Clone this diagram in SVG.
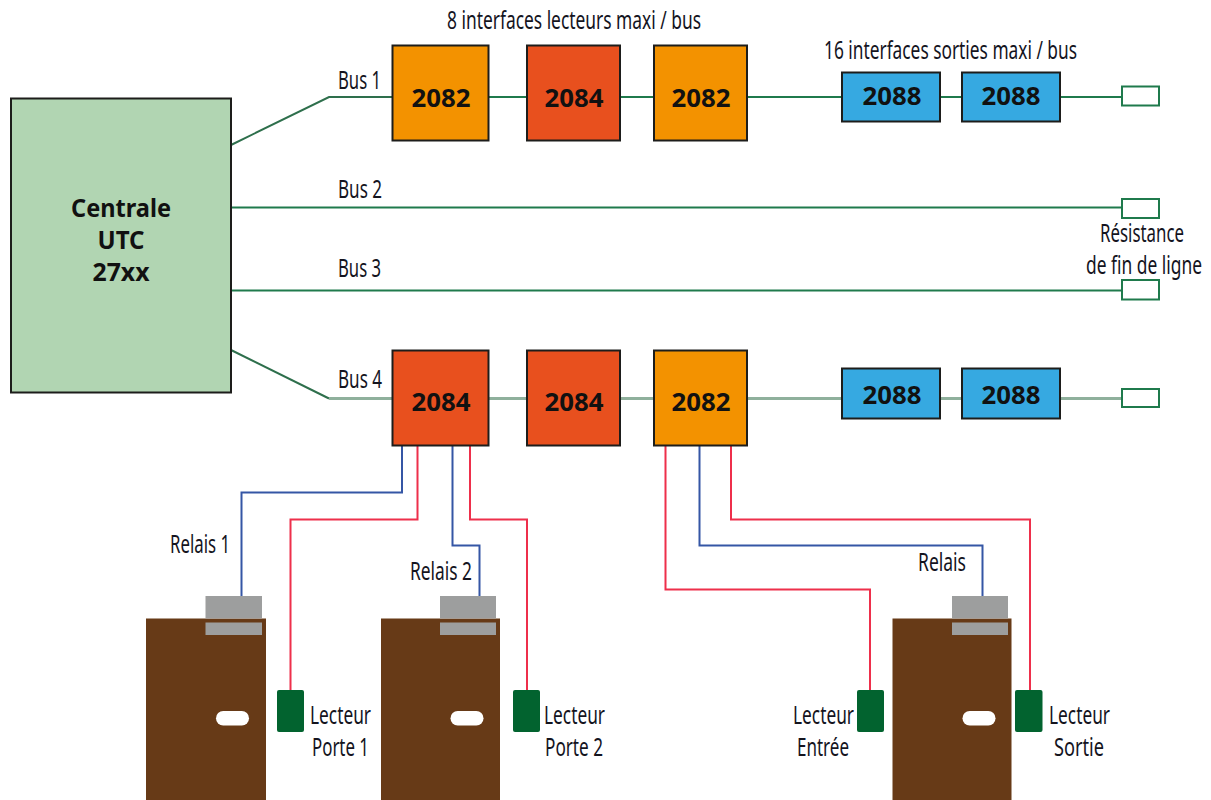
<svg xmlns="http://www.w3.org/2000/svg" width="1211" height="800" viewBox="0 0 1211 800">
<style>
text{font-family:"Noto Sans","Liberation Sans",sans-serif;fill:#14141e}
.l{font-size:25px}
.b{font-size:25px;font-weight:700;text-anchor:middle;fill:#111}
.box{stroke:#1d1d1b;stroke-width:2}
.or{fill:#f39200}.re{fill:#e8501e}.bl{fill:#36a9e1}
.w{fill:none;stroke-width:2}
.g{stroke:#1f7a4c}.g4{stroke:#8fb09c;stroke-width:3}.gd{stroke:#2e6f4c}
.bw{stroke:#3556a5}.rw{stroke:#ee2f4b}
.res{fill:#fff;stroke:#1f7a4c;stroke-width:2}
.door{fill:#673a17}.gy{fill:#9d9e9e}.rd{fill:#02632f}.sl{fill:#fff}
</style>
<g id="connectors">
<path class="w gd" d="M231 145L329 97H392"/>
<path class="w g" d="M488 97H527M620 97H654M747 97H842M940 97H962M1060 97H1122"/>
<path class="w g" d="M231 207.500H1122"/>
<path class="w g" d="M231 290.500H1122"/>
<path class="w gd" d="M231 350L329 398.500"/>
<path class="w g4" d="M329 398.500H392M488 398.500H527M620 398.500H654M747 398.500H842M940 398.500H962M1060 398.500H1122"/>
<path class="w bw" d="M402 445V492.500H241.500V596"/>
<path class="w rw" d="M417.500 445V519.500H290.500V690"/>
<path class="w bw" d="M452.500 445V545.500H479.500V596"/>
<path class="w rw" d="M470 445V519.500H527V690"/>
<path class="w rw" d="M665.500 445V589.500H870V690"/>
<path class="w bw" d="M699.500 445V545.500H982.500V596"/>
<path class="w rw" d="M731 445V519.500H1030V690"/>
</g>
<g id="centrale"><rect x="11" y="98.500" width="220" height="294" fill="#b1d5b2" class="box"/>
<text class="b" x="121" y="217" textLength="100" lengthAdjust="spacingAndGlyphs">Centrale</text><text class="b" x="121" y="249" textLength="47" lengthAdjust="spacingAndGlyphs">UTC</text><text class="b" x="121" y="281" textLength="57" lengthAdjust="spacingAndGlyphs">27xx</text></g>
<g id="b1-2082a"><rect class="box or" x="392.500" y="45.500" width="96" height="95"/><text class="b" x="441" y="107" textLength="59" lengthAdjust="spacingAndGlyphs">2082</text></g>
<g id="b1-2084"><rect class="box re" x="527" y="45.500" width="93" height="95"/><text class="b" x="574" y="107" textLength="59" lengthAdjust="spacingAndGlyphs">2084</text></g>
<g id="b1-2082b"><rect class="box or" x="654" y="45.500" width="93" height="95"/><text class="b" x="701" y="107" textLength="59" lengthAdjust="spacingAndGlyphs">2082</text></g>
<g id="b1-2088a"><rect class="box bl" x="842" y="72.500" width="98" height="49"/><text class="b" x="892" y="105" textLength="59" lengthAdjust="spacingAndGlyphs">2088</text></g>
<g id="b1-2088b"><rect class="box bl" x="962" y="72.500" width="98" height="49"/><text class="b" x="1011" y="105" textLength="59" lengthAdjust="spacingAndGlyphs">2088</text></g>
<g id="b4-2084a"><rect class="box re" x="392.500" y="350.500" width="96" height="95"/><text class="b" x="441" y="411" textLength="59" lengthAdjust="spacingAndGlyphs">2084</text></g>
<g id="b4-2084b"><rect class="box re" x="527" y="350.500" width="93" height="95"/><text class="b" x="574" y="411" textLength="59" lengthAdjust="spacingAndGlyphs">2084</text></g>
<g id="b4-2082"><rect class="box or" x="654" y="350.500" width="93" height="95"/><text class="b" x="701" y="411" textLength="59" lengthAdjust="spacingAndGlyphs">2082</text></g>
<g id="b4-2088a"><rect class="box bl" x="842" y="368.500" width="98" height="50"/><text class="b" x="892" y="404" textLength="59" lengthAdjust="spacingAndGlyphs">2088</text></g>
<g id="b4-2088b"><rect class="box bl" x="962" y="368.500" width="98" height="50"/><text class="b" x="1011" y="404" textLength="59" lengthAdjust="spacingAndGlyphs">2088</text></g>
<g id="resistances">
<rect class="res" x="1122" y="86.500" width="37" height="19"/>
<rect class="res" x="1122" y="199" width="37" height="19"/>
<rect class="res" x="1122" y="280" width="37" height="19.500"/>
<rect class="res" x="1122" y="389" width="37" height="18"/>
</g>
<g id="porte1"><rect class="door" x="146" y="618.500" width="120" height="182"/><rect class="gy" x="205.500" y="596" width="56.500" height="22.500"/><rect class="gy" x="205.500" y="622.500" width="56.500" height="12.500"/><rect class="sl" x="216" y="711" width="33" height="14.500" rx="7.200"/></g>
<g id="porte2"><rect class="door" x="381" y="618.500" width="119" height="182"/><rect class="gy" x="440" y="596" width="56" height="22.500"/><rect class="gy" x="440" y="622.500" width="56" height="12.500"/><rect class="sl" x="450.500" y="711" width="33" height="14.500" rx="7.200"/></g>
<g id="porte3"><rect class="door" x="892.500" y="618.500" width="119" height="182"/><rect class="gy" x="952" y="596" width="56" height="22.500"/><rect class="gy" x="952" y="622.500" width="56" height="12.500"/><rect class="sl" x="962.500" y="711" width="33" height="14.500" rx="7.200"/></g>
<g id="lecteurs">
<rect class="rd" x="277" y="690" width="27" height="42" rx="2"/>
<rect class="rd" x="513" y="690" width="27" height="42" rx="2"/>
<rect class="rd" x="857" y="690" width="27" height="42" rx="2"/>
<rect class="rd" x="1015" y="690" width="27.500" height="42" rx="2"/>
</g>
<g id="labels">
<text class="l" x="447" y="29" textLength="254" lengthAdjust="spacingAndGlyphs">8 interfaces lecteurs maxi / bus</text>
<text class="l" x="824" y="59" textLength="253" lengthAdjust="spacingAndGlyphs">16 interfaces sorties maxi / bus</text>
<text class="l" x="338" y="89" textLength="43" lengthAdjust="spacingAndGlyphs">Bus 1</text>
<text class="l" x="338" y="198" textLength="44" lengthAdjust="spacingAndGlyphs">Bus 2</text>
<text class="l" x="338" y="277" textLength="43" lengthAdjust="spacingAndGlyphs">Bus 3</text>
<text class="l" x="338" y="388" textLength="44" lengthAdjust="spacingAndGlyphs">Bus 4</text>
<text class="l" transform="translate(1100 242) scale(.7 1)" textLength="120" lengthAdjust="spacingAndGlyphs">Résistance</text>
<text class="l" transform="translate(1086 274) scale(.7 1)" textLength="165.700" lengthAdjust="spacingAndGlyphs">de fin de ligne</text>
<text class="l" x="170" y="553" textLength="60" lengthAdjust="spacingAndGlyphs">Relais 1</text>
<text class="l" x="410" y="580" textLength="62" lengthAdjust="spacingAndGlyphs">Relais 2</text>
<text class="l" x="918" y="571" textLength="48" lengthAdjust="spacingAndGlyphs">Relais</text>
<text class="l" x="310" y="724" textLength="61" lengthAdjust="spacingAndGlyphs">Lecteur</text>
<text class="l" x="312" y="756" textLength="57" lengthAdjust="spacingAndGlyphs">Porte 1</text>
<text class="l" x="544" y="724" textLength="61" lengthAdjust="spacingAndGlyphs">Lecteur</text>
<text class="l" x="545" y="756" textLength="58" lengthAdjust="spacingAndGlyphs">Porte 2</text>
<text class="l" x="793" y="724" textLength="61" lengthAdjust="spacingAndGlyphs">Lecteur</text>
<text class="l" x="797" y="756" textLength="52" lengthAdjust="spacingAndGlyphs">Entrée</text>
<text class="l" x="1049" y="724" textLength="61" lengthAdjust="spacingAndGlyphs">Lecteur</text>
<text class="l" x="1054" y="756" textLength="50" lengthAdjust="spacingAndGlyphs">Sortie</text>
</g>
</svg>
